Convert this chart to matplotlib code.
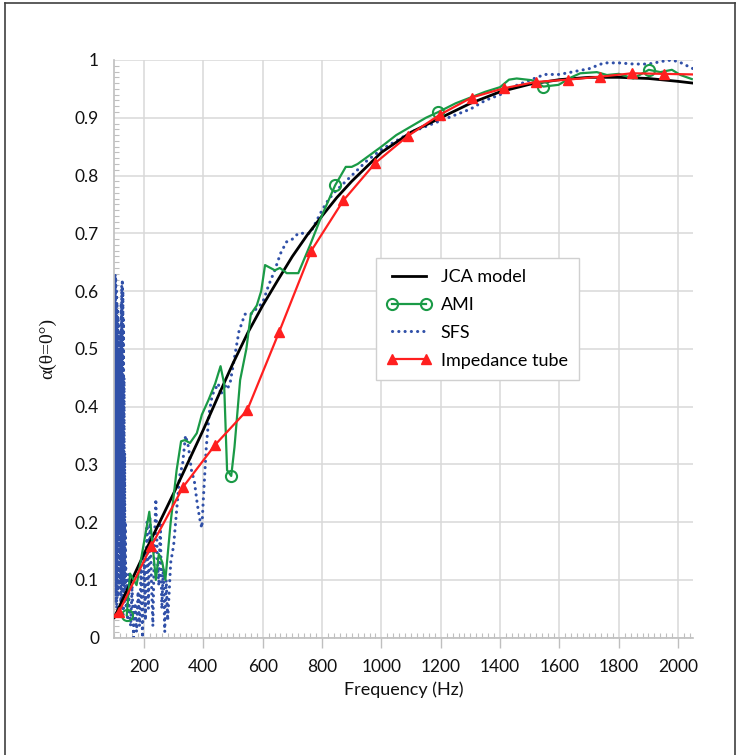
import matplotlib
matplotlib.use('Agg')
import matplotlib.pyplot as plt
from matplotlib.ticker import MultipleLocator, FormatStrFormatter
from matplotlib.lines import Line2D

# JCA model (smooth curve)
jca_freq = [100, 150, 200, 250, 300, 350, 400, 450, 500, 550, 600, 650, 700, 750, 800, 850, 900,
            1000, 1100, 1200, 1300, 1400, 1500, 1600, 1700, 1800, 1900, 2000, 2050]
jca_alpha = [0.035, 0.09, 0.145, 0.197, 0.25, 0.305, 0.36, 0.418, 0.475, 0.528, 0.575, 0.618, 0.66,
             0.697, 0.73, 0.762, 0.79, 0.84, 0.875, 0.9, 0.925, 0.945, 0.958, 0.966, 0.97, 0.97,
             0.968, 0.963, 0.96]

# AMI measurement
ami_freq = [142, 153, 175, 218, 231, 240, 250, 262, 272, 290, 310, 325, 338, 355, 378, 395, 417,
            440, 458, 470, 480, 494, 505, 524, 545, 560, 580, 595, 608, 641, 658, 681, 720, 760,
            793, 844, 861, 880, 900, 920, 960, 1000, 1050, 1100, 1150, 1192, 1250, 1300, 1350,
            1400, 1430, 1456, 1507, 1546, 1597, 1640, 1670, 1726, 1760, 1800, 1849, 1901, 1940,
            1979, 2008, 2046]
ami_alpha = [0.039, 0.111, 0.091, 0.218, 0.15, 0.10, 0.145, 0.13, 0.10, 0.20, 0.29, 0.34, 0.342,
             0.337, 0.354, 0.386, 0.411, 0.44, 0.47, 0.44, 0.29, 0.28, 0.33, 0.446, 0.50, 0.56,
             0.575, 0.60, 0.645, 0.636, 0.64, 0.631, 0.631, 0.68, 0.723, 0.783, 0.798, 0.815,
             0.815, 0.82, 0.835, 0.85, 0.87, 0.885, 0.90, 0.91, 0.925, 0.935, 0.945, 0.953,
             0.966, 0.968, 0.965, 0.954, 0.957, 0.97, 0.977, 0.979, 0.974, 0.976, 0.968, 0.983,
             0.979, 0.983, 0.974, 0.967]
ami_marker_freq = [142, 494, 844, 1192, 1546, 1901]

# SFS measurement
sfs_freq = [102, 103, 104, 105, 106, 107, 108, 109, 110, 111, 112, 113, 114, 115, 116, 117, 118,
            119, 120, 121, 122, 123, 124, 125, 126, 127, 128, 129, 130, 131, 132, 133, 134, 135,
            136, 137, 138, 139, 140, 142, 145, 148, 150, 155, 160, 165, 170, 175, 180, 185, 190,
            195, 200, 205, 210, 215, 220, 225, 230, 235, 240, 245, 250, 255, 260, 265, 270, 275,
            280, 285, 290, 300, 310, 320, 330, 340, 350, 360, 370, 380, 390, 395, 400, 410, 420,
            430, 440, 450, 460, 470, 480, 490, 500, 520, 540, 560, 580, 600, 620, 640, 660, 680,
            700, 720, 740, 760, 780, 800, 820, 840, 860, 880, 900, 950, 1000, 1050, 1100, 1150,
            1200, 1250, 1300, 1350, 1400, 1450, 1500, 1550, 1600, 1650, 1700, 1750, 1800, 1850,
            1900, 1950, 1980, 2010, 2050]
sfs_alpha = [0.08, 0.63, 0.06, 0.62, 0.10, 0.60, 0.05, 0.58, 0.12, 0.57, 0.07, 0.55, 0.15, 0.52,
             0.09, 0.50, 0.18, 0.48, 0.10, 0.53, 0.06, 0.58, 0.12, 0.61, 0.05, 0.62, 0.09, 0.60,
             0.04, 0.55, 0.10, 0.45, 0.06, 0.32, 0.11, 0.20, 0.07, 0.12, 0.05, 0.10, 0.03, 0.11,
             0.06, 0.02, 0.09, 0.00, 0.06, 0.01, 0.08, 0.02, 0.12, 0.00, 0.15, 0.03, 0.20, 0.05,
             0.21, 0.10, 0.02, 0.16, 0.24, 0.14, 0.09, 0.20, 0.05, 0.12, 0.01, 0.10, 0.03, 0.08,
             0.13, 0.16, 0.22, 0.28, 0.30, 0.35, 0.33, 0.29, 0.27, 0.23, 0.20, 0.19, 0.24, 0.33,
             0.39, 0.42, 0.43, 0.44, 0.42, 0.44, 0.43, 0.44, 0.47, 0.53, 0.56, 0.56, 0.57, 0.58,
             0.61, 0.635, 0.665, 0.685, 0.69, 0.70, 0.70, 0.70, 0.72, 0.74, 0.757, 0.77, 0.78,
             0.79, 0.80, 0.825, 0.845, 0.86, 0.875, 0.885, 0.895, 0.905, 0.915, 0.93, 0.94, 0.955,
             0.965, 0.975, 0.975, 0.98, 0.985, 0.995, 0.995, 0.993, 0.993, 0.998, 1.0, 0.995,
             0.985]

# Impedance tube measurement
imp_freq = [100, 116, 224, 332, 440, 548, 656, 764, 872, 980, 1088, 1196, 1304, 1412, 1520,
            1628, 1736, 1844, 1952, 2050]
imp_alpha = [0.038, 0.045, 0.158, 0.261, 0.334, 0.394, 0.53, 0.67, 0.757, 0.822, 0.868, 0.905,
             0.935, 0.951, 0.962, 0.966, 0.971, 0.977, 0.976, 0.975]

plt.rcParams['font.family'] = ['Lato', 'DejaVu Sans']

W, H = 738, 755
fig = plt.figure(figsize=(W / 100, H / 100), dpi=100)
ax = fig.add_axes([114.3 / W, 1 - 637.7 / H, (693 - 114.3) / W, (637.7 - 60) / H])

grey = '#BFBFBF'
ax.plot(sfs_freq, sfs_alpha, color='#3050A8', lw=2.2, linestyle=(0, (0.05, 2.0)),
        dash_capstyle='round', zorder=2, label='SFS')
ax.plot(jca_freq, jca_alpha, color='black', lw=2.0, zorder=3, label='JCA model')
ami_idx = [ami_freq.index(f) for f in ami_marker_freq]
ax.plot(ami_freq, ami_alpha, color='#1A9A46', lw=1.6, marker='o', markersize=8,
        markerfacecolor='none', markeredgewidth=1.5, markevery=ami_idx, zorder=4, label='AMI')
ax.plot(imp_freq, imp_alpha, color='#FF1F1F', lw=1.6, marker='^', markersize=7.5,
        markevery=list(range(1, len(imp_freq) - 1)), zorder=5, label='Impedance tube')

ax.set_xlim(100, 2050)
ax.set_ylim(0, 1)
ax.xaxis.set_major_locator(MultipleLocator(200))
ax.xaxis.set_minor_locator(MultipleLocator(20))
ax.yaxis.set_major_locator(MultipleLocator(0.1))
ax.yaxis.set_minor_locator(MultipleLocator(0.01))
ax.yaxis.set_major_formatter(FormatStrFormatter('%g'))
ax.grid(True, which='major', color='#D9D9D9', lw=1.1, zorder=0)
ax.set_axisbelow(True)

for s in ['top', 'right']:
    ax.spines[s].set_visible(False)
for s in ['left', 'bottom']:
    ax.spines[s].set_color(grey)
    ax.spines[s].set_linewidth(1.2)

ax.tick_params(axis='x', which='major', direction='out', length=7, width=1, color=grey,
               labelsize=12.5, pad=8, labelcolor='#111111')
ax.tick_params(axis='x', which='minor', direction='in', length=3.5, width=0.8, color=grey)
ax.tick_params(axis='y', which='major', direction='in', length=0, labelsize=12.5, pad=11,
               labelcolor='#111111')
ax.tick_params(axis='y', which='minor', direction='in', length=3.5, width=0.8, color=grey)

ax.set_xlabel('Frequency (Hz)', fontsize=13, labelpad=5, color='#111111')
ax.set_ylabel('α(θ=0°)', fontsize=14, family=['Liberation Serif', 'DejaVu Serif'],
              labelpad=13, color='#111111')

handles, labels = ax.get_legend_handles_labels()
order = ['JCA model', 'AMI', 'SFS', 'Impedance tube']
hmap = dict(zip(labels, handles))
leg = ax.legend([hmap[k] for k in order], order, loc='upper left',
                bbox_to_anchor=(0.452, 0.657), borderaxespad=0, fontsize=13, numpoints=2,
                handlelength=2.5, handletextpad=0.5, labelspacing=0.66, borderpad=0.6,
                fancybox=False, framealpha=1, edgecolor='#D0D0D0')
leg.get_frame().set_linewidth(1.0)

# outer frame around the figure
frame_col = '#404040'
fig.add_artist(Line2D([5 / W, 5 / W], [0, 1 - 3 / H], color=frame_col, lw=1.2))
fig.add_artist(Line2D([5 / W, 735 / W], [1 - 3 / H, 1 - 3 / H], color=frame_col, lw=1.2))
fig.add_artist(Line2D([735 / W, 735 / W], [0, 1 - 3 / H], color=frame_col, lw=1.2))

fig.savefig('out.png', dpi=100)
